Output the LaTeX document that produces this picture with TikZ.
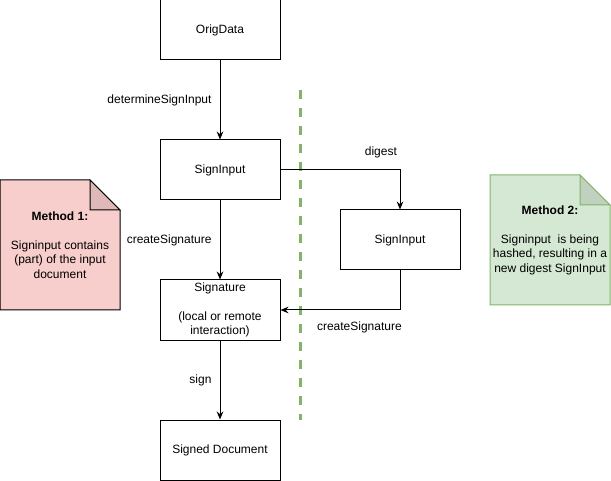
\documentclass[tikz,border=0pt]{standalone}
\usepackage{fontspec}
\setmainfont{Liberation Sans}
\usetikzlibrary{arrows.meta}

\definecolor{notered}{HTML}{F8CECC}
\definecolor{notereddark}{HTML}{DFB9B7}
\definecolor{notegreen}{HTML}{D5E8D4}
\definecolor{notegreendark}{HTML}{C0D1BF}
\definecolor{linegreen}{HTML}{82B366}

\tikzset{
    box/.style={draw, fill=white, minimum width=90pt, minimum height=45pt, inner sep=0pt, align=center},
    arrow/.style={-{Stealth[length=6pt, width=5pt]}},
    edgelabel/.style={left, inner sep=0pt, xshift=-6pt},
    divider/.style={draw=linegreen, line width=2.25pt, dash pattern=on 6.75pt off 6.75pt}
}

\begin{document}
\begin{tikzpicture}[x=0.75pt, y=-0.75pt, line width=0.75pt, font=\fontsize{9}{10.9}\selectfont]
        \useasboundingbox (0,0) rectangle (611,481);

        % separator
        \draw[divider] (300,90) -- (300,420);

        % main column
        \node[box] (origdata) at (220,30) {OrigData};
        \node[box] (signinput) at (220,170) {SignInput};
        \node[box] (signature) at (220,310) {Signature\\[10.9pt](local or remote\\interaction)};
        \node[box] (signeddoc) at (220,450) {Signed Document};

        % digest branch
        \node[box] (digestinput) at (400,240) {SignInput};

        \draw[arrow] (origdata) -- node[edgelabel] {determineSignInput} (signinput);
        \draw[arrow] (signinput) -- node[edgelabel] {createSignature} (signature);
        \draw[arrow] (signature) -- node[edgelabel] {sign} (signeddoc);
        \draw[arrow] (signinput.east) -| node[pos=0.42, above=5pt] {digest} (digestinput.north);
        \draw[arrow] (digestinput.south) |- node[pos=0.67, below=5pt] {createSignature} (signature.east);

        % note: method 1
        \filldraw[fill=notered, draw=black] (0,180) -- (90,180) -- (120,210) -- (120,310) -- (0,310) -- cycle;
        \filldraw[fill=notereddark, draw=black] (90,180) -- (90,210) -- (120,210) -- cycle;
        \node[align=center] (method1) at (60,245) {\textbf{Method 1:}\\[10.9pt]Signinput contains\\(part) of the input\\document};

        % note: method 2
        \filldraw[fill=notegreen, draw=linegreen] (490,175) -- (580,175) -- (610,205) -- (610,305) -- (490,305) -- cycle;
        \filldraw[fill=notegreendark, draw=linegreen] (580,175) -- (580,205) -- (610,205) -- cycle;
        \node[align=center] (method2) at (550,240) {\textbf{Method 2:}\\[10.9pt]Signinput\ \ is being\\hashed, resulting in a\\new digest SignInput};
    \end{tikzpicture}
\end{document}
